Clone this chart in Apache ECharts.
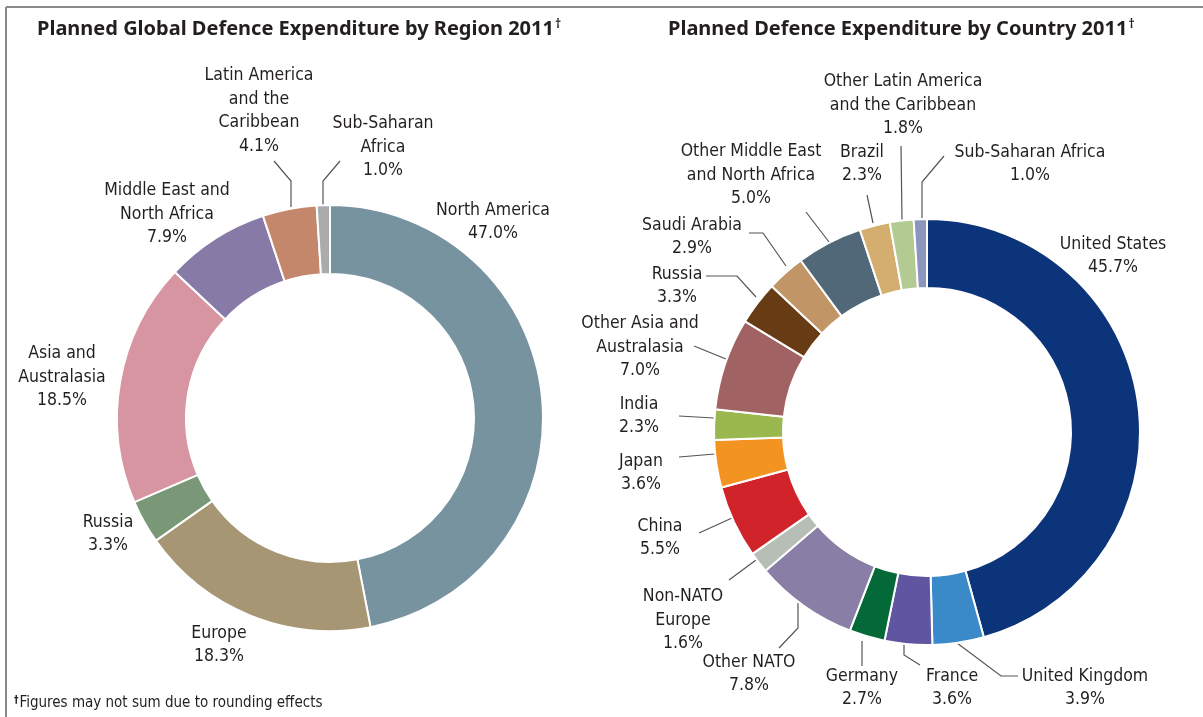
<!DOCTYPE html>
<html>
<head>
<meta charset="utf-8">
<script src="https://cdn.jsdelivr.net/npm/echarts@6/dist/echarts.min.js"></script>
<style>
  html, body { margin: 0; padding: 0; background: #fff; }
  #chart { width: 1203px; height: 717px; }
</style>
</head>
<body>
<div id="chart"></div>
<script>
// --- left donut: regions ---
const regionNames = ['North America', 'Europe', 'Russia', 'Asia and\nAustralasia', 'Middle East and\nNorth Africa', 'Latin America\nand the\nCaribbean', 'Sub-Saharan\nAfrica']
const regionValues = [47.0, 18.3, 3.3, 18.5, 7.9, 4.1, 1.0]
const regionColors = ['#7793a0', '#a69673', '#7a9878', '#d794a1', '#877aa6', '#c4876b', '#a9abad']

// --- right donut: countries ---
const countryNames = ['United States', 'United Kingdom', 'France', 'Germany', 'Other NATO', 'Non-NATO\nEurope', 'China', 'Japan', 'India', 'Other Asia and\nAustralasia', 'Russia', 'Saudi Arabia', 'Other Middle East\nand North Africa', 'Brazil', 'Other Latin America\nand the Caribbean', 'Sub-Saharan Africa']
const countryValues = [45.7, 3.9, 3.6, 2.7, 7.8, 1.6, 5.5, 3.6, 2.3, 7.0, 3.3, 2.9, 5.0, 2.3, 1.8, 1.0]
const countryColors = ['#0c347a', '#3a89c9', '#5f55a1', '#046939', '#897ea6', '#b7beb5', '#d1232a', '#f39322', '#9ab84e', '#a06262', '#673b13', '#c29567', '#506878', '#d3ae6e', '#b3cb93', '#8c96bd']

// label anchors (text block centres) and leader lines
const regionLabelPos = [[493, 222], [219, 645], [108, 534], [62, 377], [167, 214], [259, 111], [383, 147]]
const regionLines = [null, null, null, null, null,
  [[291, 207], [291, 181], [274, 161]],
  [[323, 207], [323, 181], [340, 161]]]

const countryLabelPos = [[1113, 256], [1085, 688], [952, 688], [862, 688], [749, 674], [683, 620], [660, 538], [641, 473], [639, 416], [640, 347], [677, 286], [692, 237], [751, 175], [862, 164], [903, 105], [1030, 164]]
const countryLines = [null,
  [[957, 643], [1001, 676], [1018, 676]],
  [[904, 644], [904, 655], [920, 665]],
  [[862, 641], [862, 666]],
  [[798, 603], [798, 628], [779, 648]],
  [[756, 560], [729, 580]],
  [[732, 518], [699, 533]],
  [[715, 454], [679, 457]],
  [[714, 418], [679, 416]],
  [[726, 359], [694, 346]],
  [[756, 297], [737, 276], [706, 276]],
  [[786, 266], [763, 233], [749, 233]],
  [[829, 242], [806, 212]],
  [[873, 223], [867, 195]],
  [[902, 220], [901, 146]],
  [[922, 218], [922, 182], [944, 156]]]

const labelFont = "'DejaVu Sans Condensed', 'Liberation Sans Narrow', sans-serif"
const titleFont = "'Noto Sans', 'Open Sans', sans-serif"
const textColor = '#231f20'

function buildData(names, values, colors, lines) {
  return names.map((name, i) => ({
    name,
    value: values[i],
    itemStyle: { color: colors[i] },
    labelLine: { show: !!lines[i] }
  }))
}

function makeSeries(names, values, colors, pos, lines, center) {
  return {
    type: 'pie',
    center,
    radius: [144, 213],
    startAngle: 90,
    clockwise: true,
    avoidLabelOverlap: false,
    silent: true,
    itemStyle: { borderColor: '#fff', borderWidth: 2 },
    label: {
      show: true,
      position: 'outside',
      formatter: (p) => p.name + '\n' + p.value.toFixed(1) + '%',
      fontFamily: labelFont,
      fontSize: 17.5,
      lineHeight: 23.5,
      color: textColor,
      align: 'center'
    },
    labelLine: { lineStyle: { color: '#555', width: 1.2 } },
    labelLayout: (params) => {
      const i = params.dataIndex
      const out = { x: pos[i][0], y: pos[i][1], align: 'center', verticalAlign: 'middle' }
      if (lines[i]) out.labelLinePoints = lines[i]
      return out
    },
    data: buildData(names, values, colors, lines)
  }
}

const chart = echarts.init(document.getElementById('chart'))

const titleStyle = {
  fontFamily: titleFont, fontSize: 20, fontWeight: 'bold', color: textColor,
  rich: { s: { fontFamily: titleFont, fontSize: 12, fontWeight: 'bold', color: textColor, verticalAlign: 'top', padding: [0, 0, 9, 1] } }
}

const option = {
  animation: false,
  title: [
    {
      text: 'Planned Global Defence Expenditure by Region 2011{s|†}',
      left: 32,
      top: 14,
      textStyle: titleStyle
    },
    {
      text: 'Planned Defence Expenditure by Country 2011{s|†}',
      left: 663,
      top: 14,
      textStyle: titleStyle
    }
  ],
  graphic: [
    { type: 'line', shape: { x1: 6, y1: 7, x2: 1203, y2: 7 }, style: { stroke: '#8a8a8a', lineWidth: 2 } },
    { type: 'line', shape: { x1: 6, y1: 7, x2: 6, y2: 717 }, style: { stroke: '#8a8a8a', lineWidth: 2 } },
    {
      type: 'text',
      left: 14,
      top: 695,
      style: {
        text: '{d|†}Figures may not sum due to rounding effects',
        fontFamily: labelFont,
        fontSize: 15,
        fill: textColor,
        rich: { d: { fontFamily: labelFont, fontSize: 10, fontWeight: 'bold', verticalAlign: 'top', padding: [0, 1, 6, 0] } }
      }
    }
  ],
  series: [
    makeSeries(regionNames, regionValues, regionColors, regionLabelPos, regionLines, [330, 418]),
    makeSeries(countryNames, countryValues, countryColors, countryLabelPos, countryLines, [927, 432])
  ]
}

chart.setOption(option)
</script>
</body>
</html>
